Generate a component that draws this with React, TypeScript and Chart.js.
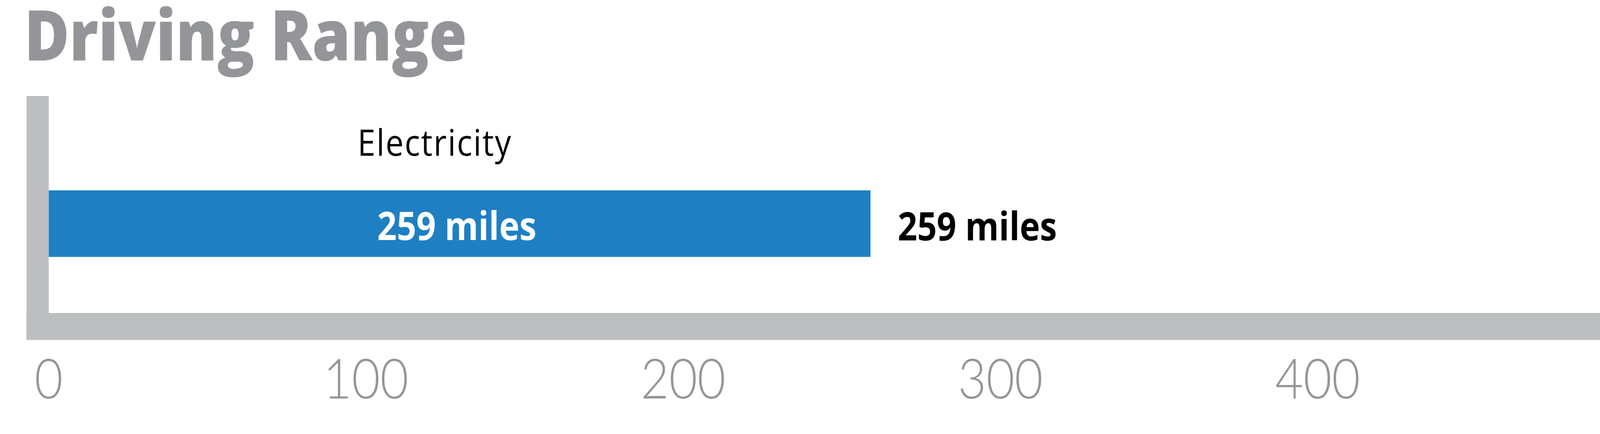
import React, { useEffect, useRef } from "react";
import { Chart, registerables } from "chart.js";

Chart.register(...registerables);

const titleText = "Driving Range";
const categories = ["Electricity"];
const values = [259];
const valueLabels = ["259 miles"];
const tickValues = [0, 100, 200, 300, 400];
const axisMin = 0;
const axisMax = 489;

const CANVAS_W = 4679;
const CANVAS_H = 1112;

const BLUE = "#1e80c3";
const AXIS_GRAY = "#bdbec0";
const TEXT_GRAY = "#939598";

const decorPlugin = {
  id: "decor",
  beforeDatasetsDraw(chart: any) {
    const { ctx, chartArea } = chart;
    const axisV = 65;
    const axisH = 69;
    const overhang = 98;
    ctx.save();
    ctx.fillStyle = AXIS_GRAY;
    ctx.fillRect(chartArea.left - axisV, chartArea.top - overhang, axisV, chartArea.bottom - chartArea.top + overhang + axisH);
    ctx.fillRect(chartArea.left - axisV, chartArea.bottom, chart.width - (chartArea.left - axisV), axisH);
    ctx.restore();
  },
  afterDatasetsDraw(chart: any) {
    const { ctx } = chart;
    const meta = chart.getDatasetMeta(0);
    ctx.save();
    meta.data.forEach((bar: any, i: number) => {
      const props = bar.getProps(["x", "y", "base", "height"], true);
      const mid = (props.base + props.x) / 2;
      ctx.textBaseline = "alphabetic";
      // value label inside the bar
      ctx.font = "bold 100px 'Open Sans'";
      ctx.textAlign = "center";
      ctx.fillStyle = "#ffffff";
      ctx.fillText(valueLabels[i], mid - 8, props.y + 42);
      // value label after the bar
      ctx.textAlign = "left";
      ctx.fillStyle = "#000000";
      ctx.fillText(valueLabels[i], props.x + 80, props.y + 43);
      // category label above the bar
      ctx.font = "normal 94px 'Open Sans'";
      try {
        (ctx as any).letterSpacing = "3px";
      } catch (e) {}
      ctx.textAlign = "left";
      ctx.fillStyle = "#000000";
      ctx.fillText(categories[i], props.base + 903, props.y - props.height / 2 - 89);
      try {
        (ctx as any).letterSpacing = "0px";
      } catch (e) {}
    });
    ctx.restore();
  },
};

export default function App() {
  const canvasRef = useRef<HTMLCanvasElement | null>(null);

  useEffect(() => {
    document.body.style.margin = "0";
    document.body.style.overflow = "hidden";
    const canvas = canvasRef.current;
    if (!canvas) return;
    const chart = new Chart(canvas, {
      type: "bar",
      data: {
        labels: categories,
        datasets: [
          {
            label: "Driving Range",
            data: values,
            backgroundColor: BLUE,
            borderWidth: 0,
            barThickness: 170,
          },
        ],
      },
      options: {
        indexAxis: "y",
        animation: false,
        responsive: false,
        devicePixelRatio: 1,
        layout: { padding: { left: 71, right: 0, top: 0, bottom: 0 } },
        plugins: {
          legend: { display: false },
          tooltip: { enabled: false },
          title: {
            display: true,
            text: titleText,
            align: "start",
            color: TEXT_GRAY,
            font: { family: "'Open Sans'", size: 180, weight: "800", lineHeight: 1 },
            padding: { top: 14, bottom: 150 },
          },
        },
        scales: {
          x: {
            type: "linear",
            position: "bottom",
            min: axisMin,
            max: axisMax,
            grid: { display: false, drawTicks: false },
            border: { display: false },
            afterBuildTicks: (scale: any) => {
              scale.ticks = tickValues.map((v) => ({ value: v }));
            },
            afterFit: (scale: any) => {
              scale.height = 310;
            },
            ticks: {
              autoSkip: false,
              maxRotation: 0,
              padding: 101,
              color: TEXT_GRAY,
              font: { family: "Lato", size: 143, weight: "300", lineHeight: 1 },
            },
          },
          y: {
            type: "category",
            grid: { display: false, drawTicks: false },
            border: { display: false },
            ticks: { display: false },
            afterFit: (scale: any) => {
              scale.width = 60;
            },
          },
        },
      },
      plugins: [decorPlugin],
    });
    return () => chart.destroy();
  }, []);

  return (
    <div style={{ position: "relative", width: "100vw", height: "100vh", background: "#ffffff", overflow: "hidden" }}>
      <canvas
        ref={canvasRef}
        width={CANVAS_W}
        height={CANVAS_H}
        style={{ display: "block", width: "100vw", height: "100vh" }}
      />
    </div>
  );
}
